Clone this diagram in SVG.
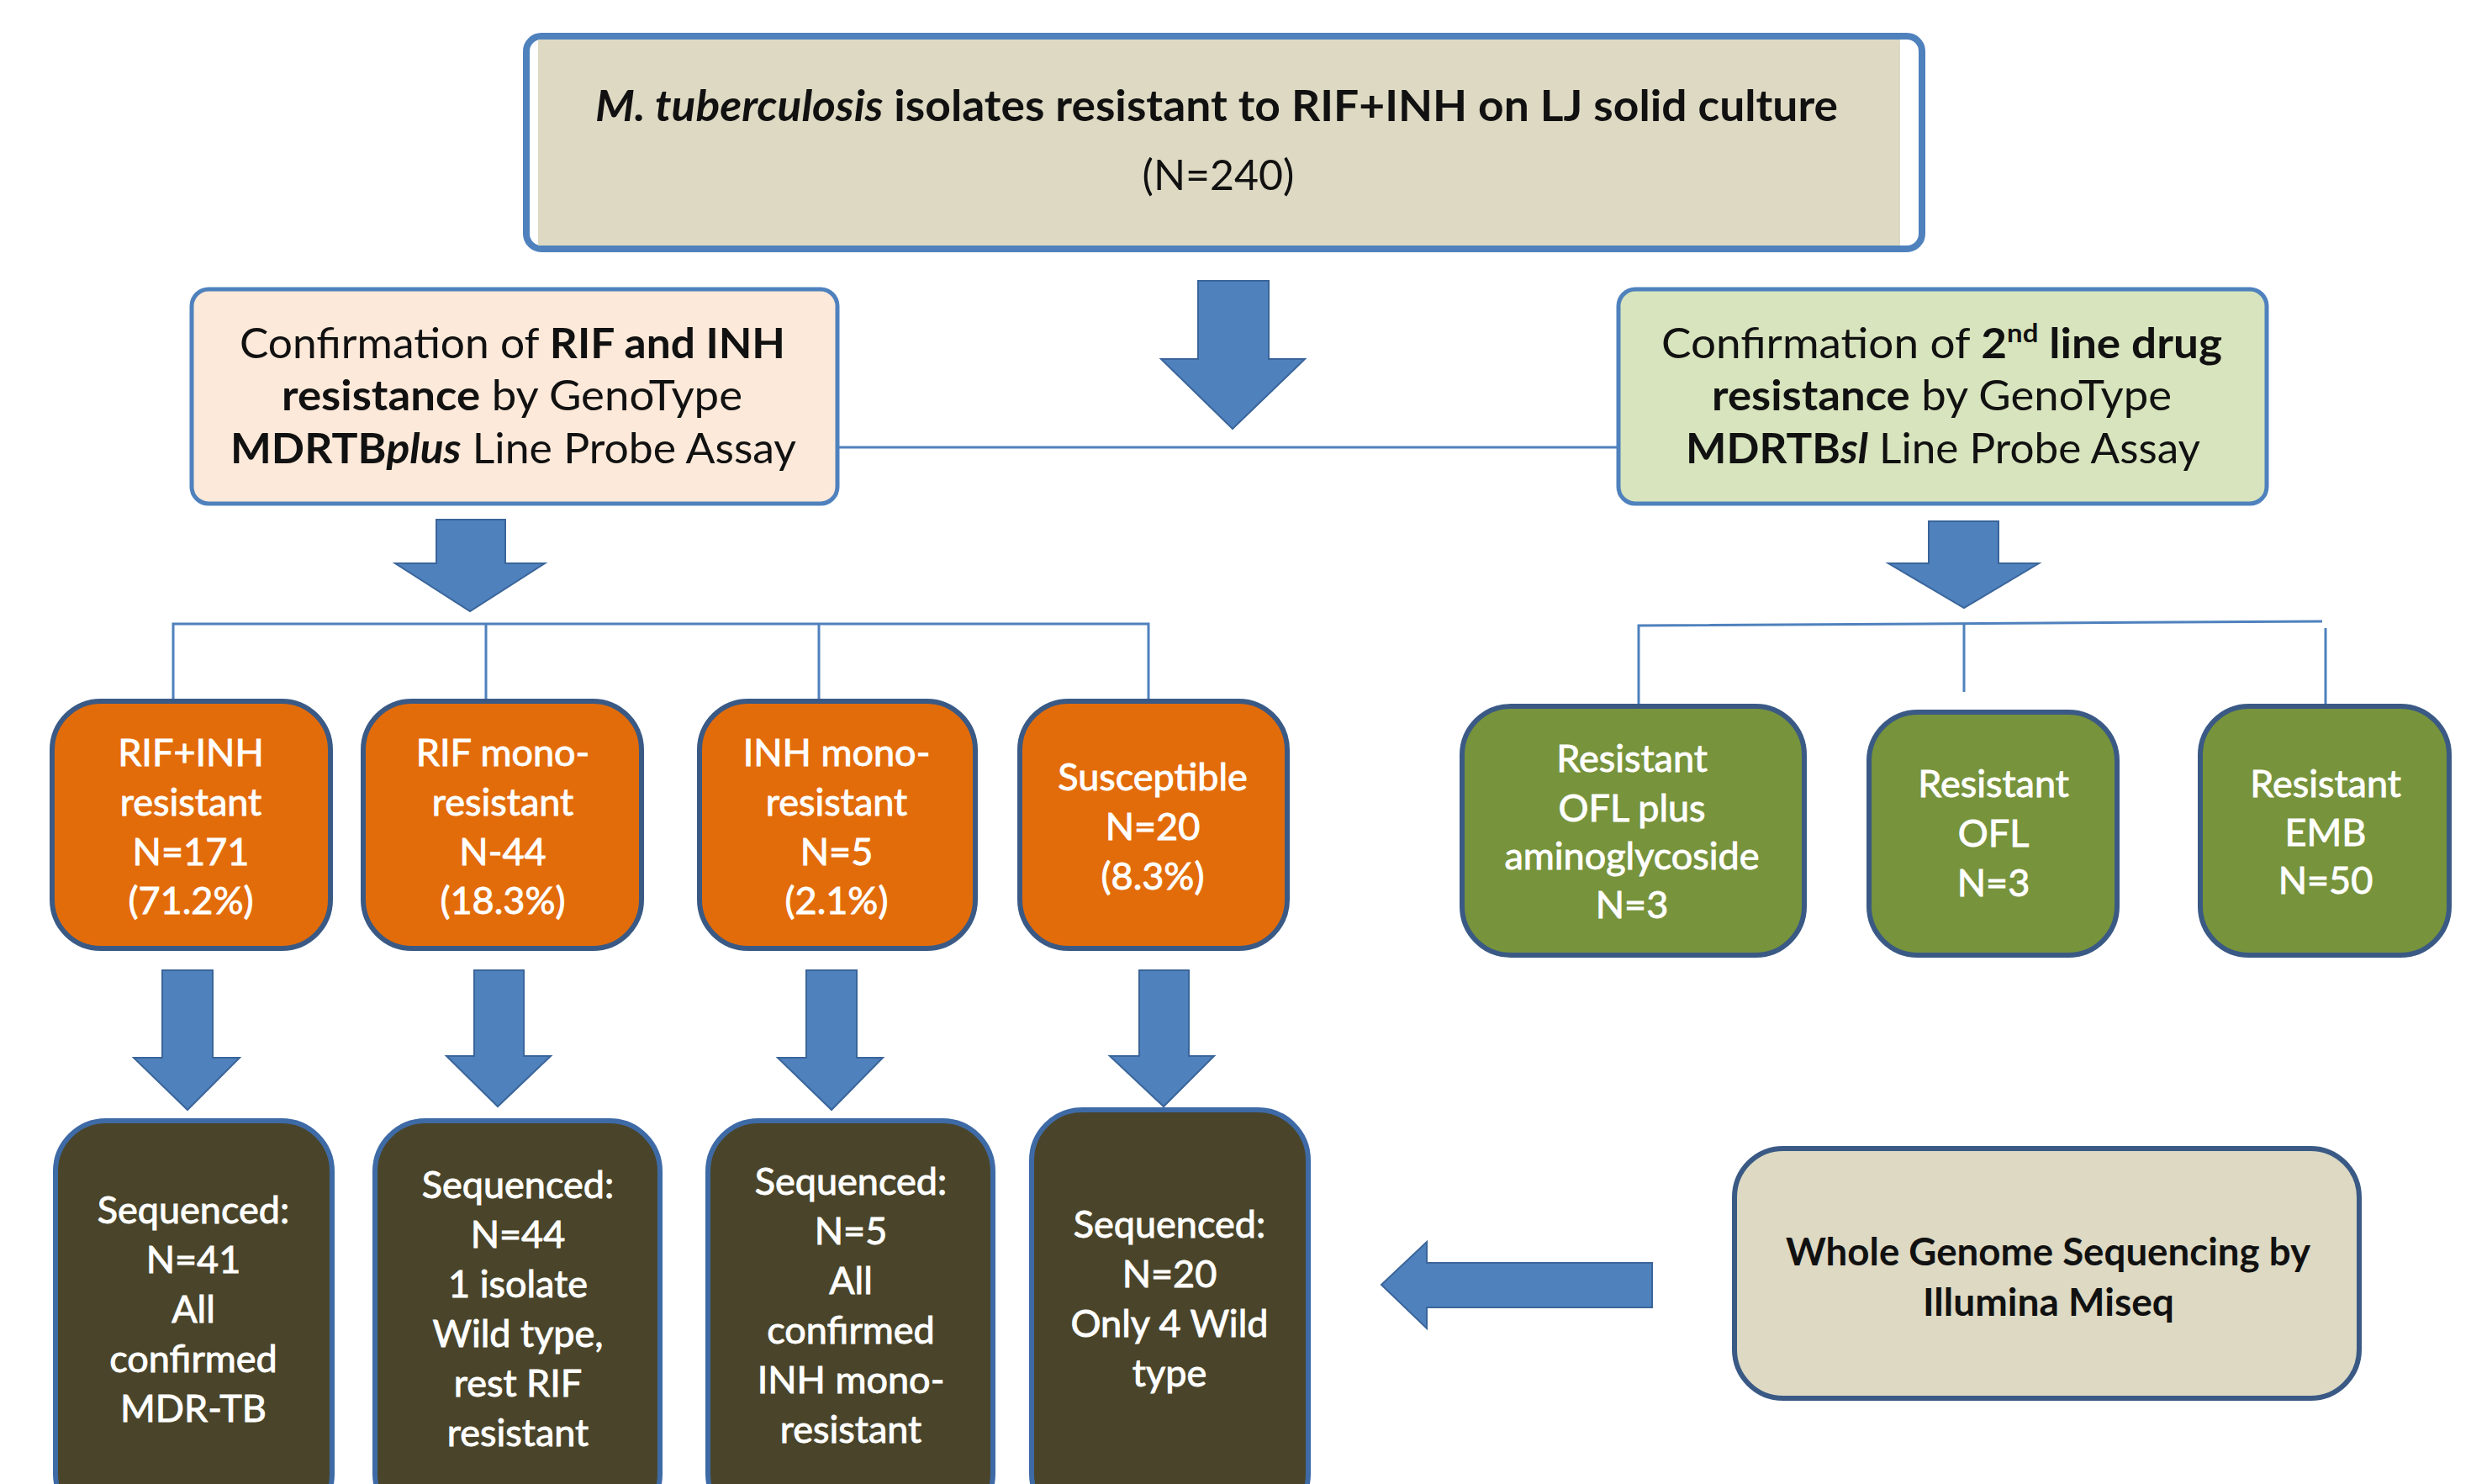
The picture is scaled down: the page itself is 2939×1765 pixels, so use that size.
<svg xmlns="http://www.w3.org/2000/svg" width="2939" height="1765" viewBox="0 0 2939 1765">
<style>
  text { font-family: Lato, "Liberation Sans", sans-serif; }
  .dk { fill: #111; }
  .wt { fill: #ffffff; stroke: #ffffff; stroke-width: 0.9; font-size: 45px; text-anchor: middle; }
  .b { font-weight: bold; }
  .bi { font-weight: bold; font-style: italic; }
  .arrow { fill: #4F81BD; stroke: #3A659A; stroke-width: 2; }
  .conn { fill: none; stroke: #4F81BD; stroke-width: 3; }
  .orange { fill: #E36C0A; stroke: #3A5A85; stroke-width: 6; }
  .green { fill: #77933C; stroke: #3A5A85; stroke-width: 6; }
  .dark { fill: #4A452A; stroke: #3E6AA6; stroke-width: 6; }
</style>
<rect width="2939" height="1765" fill="#ffffff"/>

<g id="connectors">
  <line class="conn" x1="997" y1="532" x2="1924" y2="532"/>
  <polyline class="conn" points="206,834 206,742 1366,742 1366,910"/>
  <line class="conn" x1="578" y1="742" x2="578" y2="834"/>
  <line class="conn" x1="974" y1="742" x2="974" y2="834"/>
  <polyline class="conn" points="1949,840 1949,744 2762,739"/>
  <line class="conn" x1="2336" y1="742" x2="2336" y2="823"/>
  <line class="conn" x1="2766" y1="747" x2="2766" y2="846"/>
  <polygon class="arrow" points="1425,334 1509,334 1509,427 1552,427 1466,510 1381,427 1425,427"/>
  <polygon class="arrow" points="519,618 601,618 601,670 648,670 559,727 470,670 519,670"/>
  <polygon class="arrow" points="2294,620 2377,620 2377,670 2425,670 2336,723 2246,670 2294,670"/>
  <polygon class="arrow" points="193,1154 253,1154 253,1258 285,1258 223,1320 159,1258 193,1258"/>
  <polygon class="arrow" points="564,1154 623,1154 623,1256 655,1256 592,1316 531,1256 564,1256"/>
  <polygon class="arrow" points="959,1154 1019,1154 1019,1258 1050,1258 989,1320 925,1258 959,1258"/>
  <polygon class="arrow" points="1355,1154 1414,1154 1414,1256 1444,1256 1384,1316 1320,1256 1355,1256"/>
  <polygon class="arrow" points="1965,1502 1697,1502 1697,1477 1643,1528 1697,1580 1697,1555 1965,1555"/>
</g>

<g id="top">
  <rect x="626" y="43" width="1660" height="253" rx="18" fill="#ffffff" stroke="#4F81BD" stroke-width="8"/>
  <rect x="640" y="47" width="1620" height="245" fill="#DDD9C3"/>
  <text class="dk" x="708" y="144" font-size="52" textLength="1478" lengthAdjust="spacingAndGlyphs"><tspan class="bi">M. tuberculosis</tspan><tspan class="b"> isolates resistant to RIF+INH on LJ solid culture</tspan></text>
  <text class="dk" x="1449" y="226" font-size="50" text-anchor="middle">(N=240)</text>
</g>

<g id="lpa-plus">
  <rect x="228" y="344" width="768" height="255" rx="20" fill="#FDE9D9" stroke="#4F81BD" stroke-width="5"/>
  <text class="dk" x="285" y="426" font-size="50" textLength="649" lengthAdjust="spacingAndGlyphs">Confirmation of <tspan class="b">RIF and INH</tspan></text>
  <text class="dk" x="335" y="488" font-size="50" textLength="548" lengthAdjust="spacingAndGlyphs"><tspan class="b">resistance</tspan> by GenoType</text>
  <text class="dk" x="274" y="551" font-size="50" textLength="673" lengthAdjust="spacingAndGlyphs"><tspan class="b">MDRTB</tspan><tspan class="bi">plus</tspan> Line Probe Assay</text>
</g>

<g id="lpa-sl">
  <rect x="1925" y="344" width="771" height="255" rx="20" fill="#D7E4BD" stroke="#4F81BD" stroke-width="5"/>
  <text class="dk" x="1976" y="426" font-size="50" textLength="667" lengthAdjust="spacingAndGlyphs">Confirmation of <tspan class="b">2</tspan><tspan class="b" font-size="31" dy="-19">nd</tspan><tspan class="b" dy="19"> line drug</tspan></text>
  <text class="dk" x="2036" y="488" font-size="50" textLength="547" lengthAdjust="spacingAndGlyphs"><tspan class="b">resistance</tspan> by GenoType</text>
  <text class="dk" x="2005" y="551" font-size="50" textLength="612" lengthAdjust="spacingAndGlyphs"><tspan class="b">MDRTB</tspan><tspan class="bi">sl</tspan> Line Probe Assay</text>
</g>

<g id="rif-inh">
  <rect class="orange" x="62" y="834" width="331" height="294" rx="58"/>
  <text class="wt" x="227" y="911">RIF+INH</text>
  <text class="wt" x="227" y="970">resistant</text>
  <text class="wt" x="227" y="1029">N=171</text>
  <text class="wt" x="227" y="1087">(71.2%)</text>
</g>
<g id="rif-mono">
  <rect class="orange" x="432" y="834" width="331" height="294" rx="58"/>
  <text class="wt" x="598" y="911">RIF mono-</text>
  <text class="wt" x="598" y="970">resistant</text>
  <text class="wt" x="598" y="1029">N-44</text>
  <text class="wt" x="598" y="1087">(18.3%)</text>
</g>
<g id="inh-mono">
  <rect class="orange" x="832" y="834" width="328" height="294" rx="58"/>
  <text class="wt" x="995" y="911">INH mono-</text>
  <text class="wt" x="995" y="970">resistant</text>
  <text class="wt" x="995" y="1029">N=5</text>
  <text class="wt" x="995" y="1087">(2.1%)</text>
</g>
<g id="susceptible">
  <rect class="orange" x="1213" y="834" width="318" height="294" rx="58"/>
  <text class="wt" x="1371" y="940">Susceptible</text>
  <text class="wt" x="1371" y="999">N=20</text>
  <text class="wt" x="1371" y="1058">(8.3%)</text>
</g>

<g id="ofl-amino">
  <rect class="green" x="1739" y="840" width="407" height="296" rx="58"/>
  <text class="wt" x="1941" y="918">Resistant</text>
  <text class="wt" x="1941" y="977">OFL plus</text>
  <text class="wt" x="1941" y="1034">aminoglycoside</text>
  <text class="wt" x="1941" y="1092">N=3</text>
</g>
<g id="ofl">
  <rect class="green" x="2223" y="847" width="295" height="289" rx="58"/>
  <text class="wt" x="2371" y="948">Resistant</text>
  <text class="wt" x="2371" y="1007">OFL</text>
  <text class="wt" x="2371" y="1066">N=3</text>
</g>
<g id="emb">
  <rect class="green" x="2617" y="840" width="296" height="296" rx="58"/>
  <text class="wt" x="2766" y="948">Resistant</text>
  <text class="wt" x="2766" y="1006">EMB</text>
  <text class="wt" x="2766" y="1063">N=50</text>
</g>

<g id="seq-mdr">
  <rect class="dark" x="66" y="1333" width="329" height="480" rx="60"/>
  <text class="wt" x="230" y="1455">Sequenced:</text>
  <text class="wt" x="230" y="1514">N=41</text>
  <text class="wt" x="230" y="1573">All</text>
  <text class="wt" x="230" y="1632">confirmed</text>
  <text class="wt" x="230" y="1691">MDR-TB</text>
</g>
<g id="seq-rif">
  <rect class="dark" x="446" y="1333" width="339" height="480" rx="60"/>
  <text class="wt" x="616" y="1425">Sequenced:</text>
  <text class="wt" x="616" y="1484">N=44</text>
  <text class="wt" x="616" y="1543">1 isolate</text>
  <text class="wt" x="616" y="1602">Wild type,</text>
  <text class="wt" x="616" y="1661">rest RIF</text>
  <text class="wt" x="616" y="1720">resistant</text>
</g>
<g id="seq-inh">
  <rect class="dark" x="842" y="1333" width="339" height="480" rx="60"/>
  <text class="wt" x="1012" y="1421">Sequenced:</text>
  <text class="wt" x="1012" y="1480">N=5</text>
  <text class="wt" x="1012" y="1539">All</text>
  <text class="wt" x="1012" y="1598">confirmed</text>
  <text class="wt" x="1012" y="1657">INH mono-</text>
  <text class="wt" x="1012" y="1716">resistant</text>
</g>
<g id="seq-susc">
  <rect class="dark" x="1227" y="1320" width="329" height="493" rx="60"/>
  <text class="wt" x="1391" y="1472">Sequenced:</text>
  <text class="wt" x="1391" y="1531">N=20</text>
  <text class="wt" x="1391" y="1590">Only 4 Wild</text>
  <text class="wt" x="1391" y="1649">type</text>
</g>

<g id="wgs">
  <rect x="2063" y="1366" width="743" height="297" rx="58" fill="#DDD9C3" stroke="#3A5A85" stroke-width="6"/>
  <text class="dk b" x="2124" y="1505" font-size="46" textLength="624" lengthAdjust="spacingAndGlyphs">Whole Genome Sequencing by</text>
  <text class="dk b" x="2287" y="1565" font-size="46" textLength="299" lengthAdjust="spacingAndGlyphs">Illumina Miseq</text>
</g>
</svg>
